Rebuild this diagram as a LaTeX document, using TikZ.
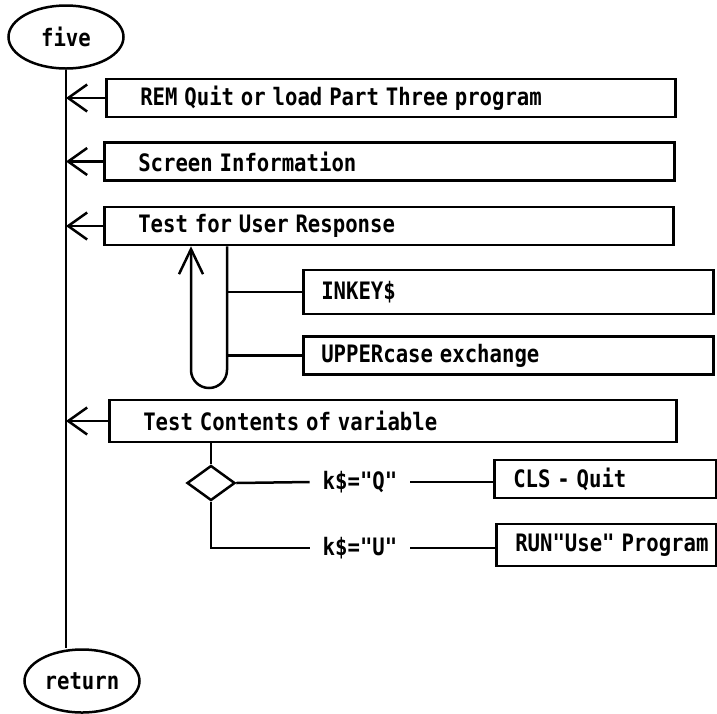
\documentclass[tikz,border=0pt]{standalone}
\usepackage{fontspec}
\setmonofont{DejaVu Sans Mono}
\usetikzlibrary{arrows.meta,shapes.geometric}
\newcommand{\plt}[1]{\scalebox{0.86}[1]{#1}}
\tikzset{
  every node/.style={font=\ttfamily\bfseries\fontsize{24}{26}\selectfont},
  ink/.style={line width=2.5pt},
  box/.style={draw, ink, rectangle, anchor=west, align=left, inner xsep=34pt, inner ysep=0pt, minimum height=38pt},
  subbox/.style={box, inner xsep=18pt},
  term/.style={draw, ink, ellipse, inner sep=0pt, minimum width=115pt, minimum height=63pt},
  decide/.style={draw, ink, diamond, inner sep=0pt, minimum width=48pt, minimum height=35pt},
  cond/.style={inner xsep=13pt, inner ysep=0pt},
  back/.style={ink, -{Straight Barb[length=19pt,width=27pt]}}
}
\begin{document}
\begin{tikzpicture}[x=1pt,y=-1pt]
  \useasboundingbox (0,0) rectangle (717,713);

  \node[term] (five) at (66,37) {\plt{five}};
  \node[term] (ret) at (82,681) {\plt{return}};

  \node[box, text width=501pt] (b1) at (105,98) {\plt{REM Quit or load Part Three program}};
  \node[box, text width=502pt] (b2) at (103,161.5) {\plt{Screen Information}};
  \node[box, text width=501pt] (b3) at (103,226) {\plt{Test for User Response}};
  \node[subbox, text width=374pt, minimum height=44pt] (inkey) at (302,292) {\plt{INKEY\$}};
  \node[subbox, text width=374pt] (upper) at (302,355.5) {\plt{UPPERcase exchange}};
  \node[box, text width=499pt, minimum height=42pt] (b4) at (108,421) {\plt{Test Contents of variable}};

  \node[decide] (dia) at (211,483) {};
  \node[cond] (kq) at (360,482) {\plt{k\$="Q"}};
  \node[cond] (ku) at (360,548) {\plt{k\$="U"}};
  \node[subbox, inner xsep=19pt, text width=184pt] (cls) at (493,479) {\plt{CLS - Quit}};
  \node[subbox, inner xsep=19pt, text width=182pt, minimum height=42pt] (run) at (495,545) {\plt{RUN"Use" Program}};

  \draw[ink] (five.south) -- (five.south |- ret.north);
  \foreach \b in {b1,b2,b3,b4}
  \draw[back] (\b.west) -- (\b.west -| five.south);

  \coordinate (loopL) at (191,370);
  \coordinate (loopR) at (227,370);
  \draw[ink, -{Straight Barb[length=25pt,width=24pt]}] (loopR |- b3.south) -- (loopR) arc (0:180:18) -- (loopL |- b3.south);
  \draw[ink] (loopR |- inkey.west) -- (inkey.west);
  \draw[ink] (loopR |- upper.west) -- (upper.west);

  \draw[ink] (dia.north |- b4.south) -- (dia.north);
  \draw[ink] (dia.east) -- (kq.west);
  \draw[ink] (kq.east) -- (kq.east -| cls.west);
  \draw[ink] (dia.south) |- (ku.west);
  \draw[ink] (ku.east) -- (ku.east -| run.west);
\end{tikzpicture}
\end{document}
